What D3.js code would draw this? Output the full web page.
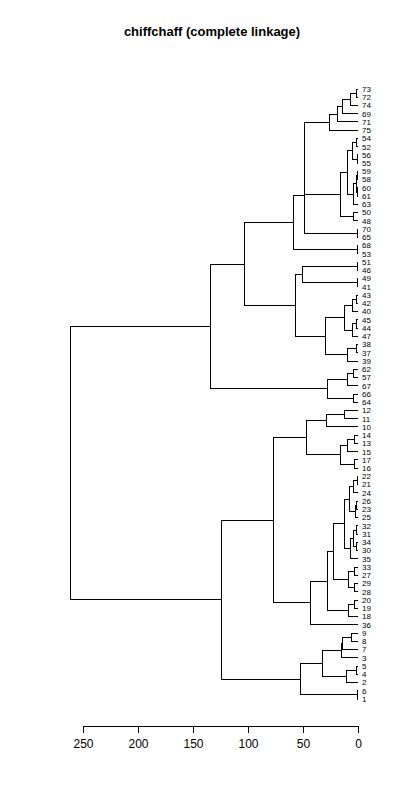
<!DOCTYPE html>
<html>
<head>
<meta charset="utf-8">
<script src="https://cdn.jsdelivr.net/npm/d3@7"></script>
<style>
  body { margin: 0; background: #fff; }
  svg { font-family: "Liberation Sans", Arial, sans-serif; }
</style>
</head>
<body>
<svg width="400" height="800"></svg>
<script>
// leaf order, top to bottom
const leafOrder = [73,72,74,69,71,75,54,52,56,55,59,58,60,61,63,50,48,70,65,68,53,
  51,46,49,41,43,42,40,45,44,47,38,37,39,62,57,67,66,64,12,11,10,14,13,15,17,16,
  22,21,24,26,23,25,32,31,34,30,35,33,27,29,28,20,19,18,36,9,8,7,3,5,4,2,6,1];

// merges: [left, right, height]; numbers are leaves, "mN" refers to merge N
const merges = [
  [73,72,1.8],[ "m0",74,6.4],["m1",69,14.5],["m2",71,18.5],["m3",75,26],
  [54,52,1.2],[56,55,0.5],["m5","m6",4.8],[59,58,0.6],[60,61,0.5],
  ["m8","m9",1.5],["m10",63,4],["m7","m11",9.4],[50,48,4.2],["m12","m13",16],
  [70,65,0.5],["m4","m14",48.8],["m16","m15",48.9],[68,53,0.8],["m17","m18",58.8],
  [51,46,0.9],[49,41,0.9],["m20","m21",50.6],[43,42,1.2],["m23",40,4.8],
  [45,44,1.2],["m25",47,4.8],["m24","m26",12.7],[38,37,1.2],["m28",39,9.4],
  ["m27","m29",29.7],["m22","m30",57],["m19","m31",103.4],[62,57,4.2],["m33",67,9.4],
  [66,64,4.2],["m34","m35",27.9],["m32","m36",133.9],
  [12,11,12.4],["m38",10,28.5],[14,13,3],["m40",15,9.7],[17,16,3],
  ["m41","m42",16.1],["m39","m43",47],[22,21,0.3],["m45",24,4.2],[26,23,1],
  ["m47",25,2.1],["m46","m48",7.9],[32,31,1],[34,30,1],["m50","m51",4],
  ["m52",35,6.5],["m49","m53",12.4],[33,27,3.6],[29,28,3],["m55","m56",8.8],
  ["m54","m57",22.4],[20,19,3],["m59",18,8.8],["m58","m60",27.9],["m61",36,43.3],
  ["m44","m62",77],[9,8,5.8],["m64",7,13.8],["m65",3,15.3],[5,4,1],
  ["m67",2,10.6],["m66","m68",32.4],[6,1,0.5],["m69","m70",52.4],
  ["m63","m71",124.2],["m37","m72",261]
];

const xTicks = [0,50,100,150,200,250];

const svg = d3.select("svg");

const x = d3.scaleLinear().domain([0,250]).range([358,83]);
const y = d3.scaleLinear().domain([0,leafOrder.length-1]).range([89,699]);

// positions
const leafPos = new Map(leafOrder.map((l,i) => [l, y(i)]));
const nodePos = [];
const getPos = c => typeof c === "string" ? nodePos[+c.slice(1)] : leafPos.get(c);
const getH = c => typeof c === "string" ? merges[+c.slice(1)][2] : 0;
merges.forEach((m,i) => { nodePos[i] = (getPos(m[0]) + getPos(m[1])) / 2; });

// branches
const g = svg.append("g")
  .attr("fill","none").attr("stroke","#000").attr("stroke-width",1)
  .attr("shape-rendering","crispEdges");
merges.forEach((m,i) => {
  [m[0], m[1]].forEach(c => {
    g.append("path").attr("d",
      `M${x(m[2])},${nodePos[i]}V${getPos(c)}H${x(getH(c))}`);
  });
});

// root stem is not drawn; leaf labels
svg.append("g").selectAll("text")
  .data(leafOrder)
  .enter().append("text")
  .attr("x", 362)
  .attr("y", d => leafPos.get(d))
  .attr("dy","0.35em")
  .attr("font-size", 8)
  .text(d => d);

// axis
const axis = svg.append("g")
  .attr("transform","translate(0,726)")
  .call(d3.axisBottom(x).tickValues(xTicks).tickSize(7).tickSizeOuter(0).tickPadding(6));
axis.selectAll("text").attr("font-size",12).attr("font-family","Liberation Sans, Arial, sans-serif");
axis.selectAll("path,line").attr("stroke","#000").attr("shape-rendering","crispEdges");

// title
svg.append("text")
  .attr("x", 212).attr("y", 36)
  .attr("text-anchor","middle")
  .attr("font-weight","bold")
  .attr("font-size", 13)
  .text("chiffchaff (complete linkage)");
</script>
</body>
</html>
